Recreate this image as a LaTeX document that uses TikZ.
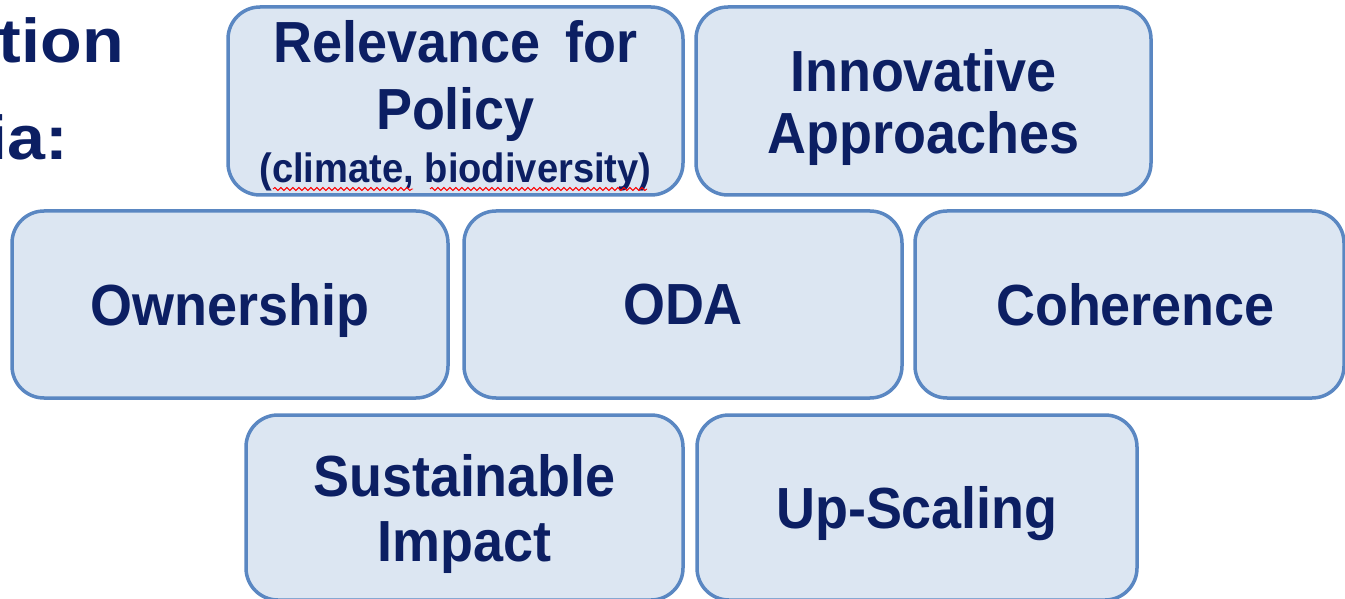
\documentclass[tikz,border=0pt]{standalone}
\usepackage{fontspec}
\setmainfont{Liberation Sans}[FakeStretch=0.93]
\newfontfamily\sidefont{Liberation Sans}[FakeStretch=1.1]
\usetikzlibrary{decorations.pathmorphing}
\definecolor{boxfill}{HTML}{DCE6F2}
\definecolor{boxline}{HTML}{5A87C2}
\definecolor{navy}{HTML}{0C1F63}
\begin{document}
\begin{tikzpicture}[x=1pt,y=-1pt,
  crit/.style={draw=boxline, fill=boxfill, line width=3.5pt, rounded corners=32pt,
    inner sep=0pt, align=center, text=navy, text depth=0pt,
    font=\bfseries\fontsize{58}{62}\selectfont},
  side/.style={text=navy, inner sep=0pt, anchor=base east,
    font=\sidefont\bfseries\fontsize{62}{70}\selectfont},
  spell/.style={red, line width=0.9pt, decorate,
    decoration={snake, amplitude=1.5pt, segment length=6pt}}
]
\useasboundingbox (0,0) rectangle (1345,599);
\clip (0,0) rectangle (1345,599);

\node[side] (t1) at (124,63) {tion};
\node[side] (t2) at (68,160) {ia:};

\node[crit, minimum width=455pt, minimum height=188pt, text depth=-6pt,
  font=\bfseries\fontsize{58}{67}\selectfont]
  (rel) at (455.5,101) {Relevance\hspace{10pt} for\\ Policy\\[-14pt] {\fontsize{41}{46}\selectfont (climate, biodiversity)}};
\node[crit, minimum width=455pt, minimum height=188pt] (inn) at (923.5,101) {Innovative\\ Approaches};

\node[crit, minimum width=436pt, minimum height=187pt] (own) at (230,304.5) {Ownership};
\node[crit, minimum width=438pt, minimum height=187pt] (oda) at (683,304.5) {ODA};
\node[crit, minimum width=429pt, minimum height=187pt] (coh) at (1129.5,304.5) {\hspace{12pt}Coherence};

\node[crit, minimum width=437pt, minimum height=185pt, font=\bfseries\fontsize{58}{65}\selectfont]
  (sus) at (464.5,507.5) {Sustainable\\ Impact};
\node[crit, minimum width=440pt, minimum height=185pt] (ups) at (917,507.5) {Up-Scaling};

\draw[spell] (273,189) -- (413,189);
\draw[spell] (430,189) -- (647,189);
\end{tikzpicture}
\end{document}
